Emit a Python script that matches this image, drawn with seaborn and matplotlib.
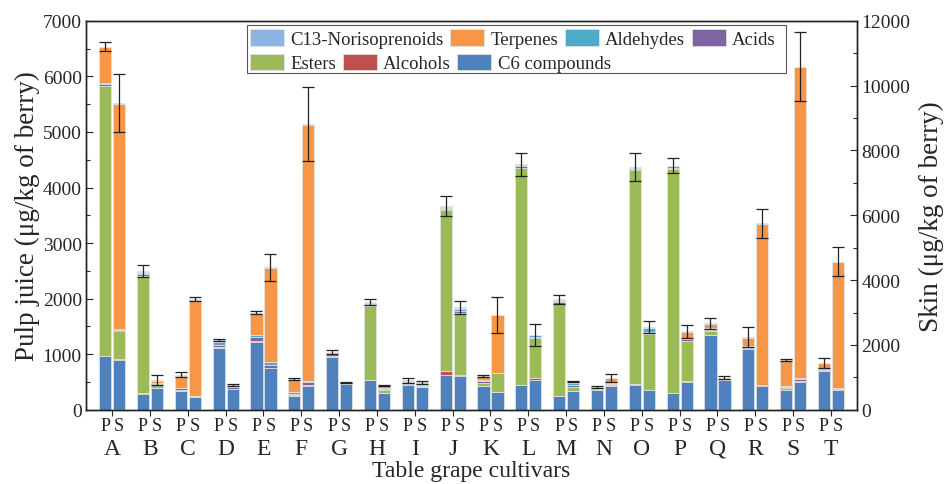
import numpy as np
import matplotlib
matplotlib.use("Agg")
import matplotlib.pyplot as plt
from matplotlib.patches import Rectangle
import seaborn as sns

cultivars = list("ABCDEFGHIJKLMNOPQRST")
groups = ["C6 compounds", "Alcohols", "Esters", "Acids", "Aldehydes", "Terpenes", "C13-Norisoprenoids"]
colors = ["#4F81BD", "#C0504D", "#9BBB59", "#8064A2", "#4BACC6", "#F79646", "#8DB4E2"]

# pulp juice (left axis), one value per cultivar A..T
pulp_c6 = [960, 285, 335, 1115, 1225, 240, 955, 530, 455, 630, 420, 445, 240, 360, 455, 295, 1340, 1100, 360, 700]
pulp_alcohols = [15, 10, 5, 5, 10, 5, 5, 10, 5, 70, 5, 10, 10, 5, 10, 10, 10, 5, 5, 5]
pulp_esters = [4855, 2115, 10, 10, 5, 25, 10, 1330, 5, 2900, 55, 3905, 1650, 5, 3855, 4025, 60, 5, 35, 5]
pulp_acids = [30, 25, 45, 40, 70, 20, 50, 30, 40, 20, 40, 25, 40, 30, 20, 30, 30, 30, 15, 30]
pulp_aldehydes = [25, 20, 5, 50, 35, 25, 10, 20, 15, 20, 10, 20, 25, 10, 20, 25, 25, 5, 10, 10]
pulp_terpenes = [635, 30, 215, 20, 390, 230, 5, 5, 5, 10, 70, 5, 15, 0, 0, 0, 85, 155, 465, 85]
pulp_c13 = [10, 15, 15, 15, 10, 10, 5, 10, 5, 10, 10, 5, 10, 5, 10, 10, 10, 10, 5, 5]
pulp_err = [80, 110, 45, 25, 30, 20, 40, 55, 45, 180, 20, 200, 80, 15, 250, 130, 100, 175, 15, 85]

# skin (right axis)
skin_c6 = [1550, 660, 400, 640, 1275, 740, 795, 515, 690, 1030, 540, 915, 585, 740, 605, 865, 920, 720, 865, 605]
skin_alcohols = [15, 10, 5, 5, 10, 10, 5, 10, 10, 45, 10, 55, 10, 10, 15, 15, 10, 10, 10, 10]
skin_esters = [880, 90, 10, 5, 10, 10, 10, 90, 30, 1925, 580, 1230, 95, 45, 1715, 1250, 20, 10, 10, 10]
skin_acids = [20, 30, 10, 50, 80, 100, 10, 40, 10, 60, 10, 40, 80, 20, 80, 40, 10, 20, 70, 20]
skin_aldehydes = [20, 40, 10, 10, 105, 20, 10, 20, 10, 60, 10, 60, 55, 20, 100, 40, 10, 20, 20, 20]
skin_terpenes = [6955, 55, 2965, 45, 2895, 7920, 5, 55, 85, 20, 1760, 0, 30, 133, 5, 193, 10, 4950, 9595, 3885]
skin_c13 = [20, 20, 15, 10, 20, 20, 10, 10, 10, 20, 10, 10, 20, 10, 20, 15, 15, 20, 20, 20]
skin_err = [900, 155, 50, 20, 410, 1150, 15, 20, 50, 200, 545, 340, 25, 115, 185, 195, 50, 460, 1050, 455]

pulp = [pulp_c6, pulp_alcohols, pulp_esters, pulp_acids, pulp_aldehydes, pulp_terpenes, pulp_c13]
skin = [skin_c6, skin_alcohols, skin_esters, skin_acids, skin_aldehydes, skin_terpenes, skin_c13]

sns.set_style("ticks")
plt.rcParams["font.family"] = ["Liberation Serif", "DejaVu Serif"]

fig = plt.figure(figsize=(9.45, 4.85), dpi=100)
ax = fig.add_axes([0.091, 0.153, 0.816, 0.802])
ax2 = ax.twinx()

x = np.arange(len(cultivars))
off = 0.185
w = 0.32
edge = dict(edgecolor="#e6e6e6", linewidth=0.5)

handles = []
bottom = np.zeros(len(x))
for vals, name, col in zip(pulp, groups, colors):
    vals = np.array(vals, float)
    h = ax.bar(x - off, vals, w, bottom=bottom, color=col, label=name, **edge)
    handles.append(h)
    bottom += vals
ax.errorbar(x - off, bottom, yerr=pulp_err, fmt="none", ecolor="#222222",
            elinewidth=0.9, capsize=4, capthick=0.9)

bottom = np.zeros(len(x))
for vals, col in zip(skin, colors):
    vals = np.array(vals, float)
    ax2.bar(x + off, vals, w, bottom=bottom, color=col, **edge)
    bottom += vals
ax2.errorbar(x + off, bottom, yerr=skin_err, fmt="none", ecolor="#222222",
             elinewidth=0.9, capsize=4, capthick=0.9)

ax.set_xlim(-0.69, len(x) - 1 + 0.69)
ax.set_ylim(0, 7000)
ax2.set_ylim(0, 12000)
ax.set_yticks(np.arange(0, 7001, 1000))
ax.set_yticks(np.arange(500, 7000, 1000), minor=True)
ax2.set_yticks(np.arange(0, 12001, 2000))
ax2.set_yticks(np.arange(1000, 12000, 2000), minor=True)

ax.tick_params(axis="y", direction="in", length=5, width=0.8, labelsize=14, pad=3)
ax.tick_params(axis="y", which="minor", direction="in", length=3, width=0.8)
ax2.tick_params(axis="y", direction="in", length=5, width=0.8, labelsize=14, pad=3)
ax2.tick_params(axis="y", which="minor", direction="in", length=3, width=0.8)

# P / S labels as minor ticks, cultivar letters as major ticks
ax.set_xticks(x)
ax.set_xticklabels(cultivars, fontsize=17)
ax.set_xticks(np.concatenate([x - off, x + off]), minor=True)
ax.set_xticklabels(["P"] * len(x) + ["S"] * len(x), minor=True, fontsize=13)
ax.tick_params(axis="x", which="major", direction="out", length=4, width=0.8, pad=16)
ax.tick_params(axis="x", which="minor", length=0, pad=5)

for a in (ax, ax2):
    for s in a.spines.values():
        s.set_linewidth(1.0)
        s.set_color("#222222")

ax.set_ylabel("Pulp juice (μg/kg of berry)", fontsize=19.5, labelpad=2)
ax2.set_ylabel("Skin (μg/kg of berry)", fontsize=19.5, labelpad=6)
ax.set_xlabel("Table grape cultivars", fontsize=17, labelpad=1)

# legend: two rows flowing like the original, inside one frame
leg_kw = dict(frameon=False, fontsize=13.5, handlelength=1.8, handleheight=0.95,
              handletextpad=0.35, columnspacing=0.35, borderpad=0, borderaxespad=0,
              loc="upper left")
row1 = [6, 5, 4, 3]
row2 = [2, 1, 0]
leg1 = ax2.legend([handles[i] for i in row1], [groups[i] for i in row1], ncol=4,
                  bbox_to_anchor=(0.213, 0.978), **leg_kw)
ax2.add_artist(leg1)
ax2.legend([handles[i] for i in row2], [groups[i] for i in row2], ncol=3,
           bbox_to_anchor=(0.213, 0.915), **leg_kw)
ax2.add_patch(Rectangle((0.209, 0.866), 0.699, 0.123, transform=ax2.transAxes,
                        fill=False, edgecolor="#555555", linewidth=0.8, zorder=5))

fig.savefig("out.png", dpi=100)
